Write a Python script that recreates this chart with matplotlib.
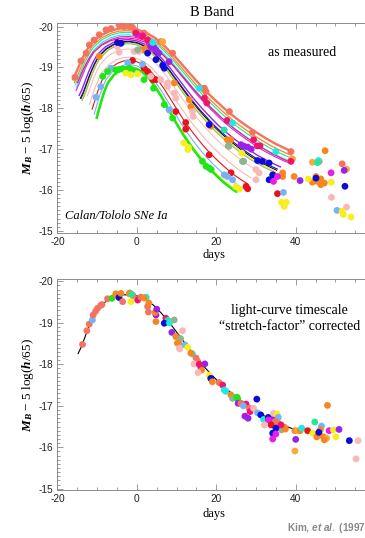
import numpy as np
import matplotlib
matplotlib.use("Agg")
import matplotlib.pyplot as plt
from matplotlib.ticker import MultipleLocator, FixedLocator

plt.rcParams['mathtext.fontset'] = 'custom'
plt.rcParams['mathtext.rm'] = 'Liberation Serif'
plt.rcParams['mathtext.bf'] = 'Liberation Serif:bold:italic'
plt.rcParams['mathtext.it'] = 'Liberation Sans:bold:italic'

# ---------------- colours ----------------
colors = {
    'S': '#f4735e', 'O': '#f7861e', 'LO': '#fba83a', 'R': '#e8121a',
    'LP': '#f9b8b8', 'M': '#e61ee6', 'HP': '#f0146e', 'P': '#9b22e8',
    'B': '#0c0cd6', 'LB': '#74b4f2', 'C': '#1ee8e0', 'MG': '#22e6a0',
    'G': '#1ee61a', 'Y': '#f6ee1e', 'GG': '#8fb48f', 'K': '#000000',
}

# ---------------- template light curve (stretch-corrected) ----------------
tmpl_day = [-15, -14, -13, -12, -11, -10, -8, -6, -4, -2, 0, 2, 4, 6, 8, 10, 12,
            14, 16, 18, 20, 22, 24, 26, 28, 30, 32, 34, 36, 38, 40]
tmpl_mag = [-18.22, -18.42, -18.68, -18.93, -19.14, -19.31, -19.50, -19.61,
            -19.67, -19.68, -19.65, -19.57, -19.44, -19.25, -19.03, -18.78,
            -18.52, -18.27, -18.04, -17.83, -17.63, -17.45, -17.29, -17.14,
            -17.00, -16.87, -16.76, -16.66, -16.57, -16.49, -16.42]
tmpl_peak = -19.68

# ---------------- fitted curves, top panel ----------------
curve_col = ['LP', 'S', 'O', 'MG', 'C', 'M', 'HP', 'P', 'B', 'K', 'Y', 'GG', 'LP', 'R', 'LB', 'Y', 'G']
curve_peak = [-19.45, -19.96, -19.90, -19.86, -19.80, -19.76, -19.72, -19.68, -19.64, -19.62, -19.60, -19.58, -19.25, -19.17, -19.07, -19.01, -18.99]
curve_stretch = [0.92, 1.15, 1.12, 1.10, 1.08, 1.07, 1.12, 1.00, 0.97, 0.96, 0.95, 0.94, 0.88, 0.82, 0.78, 0.74, 0.73]
curve_start = [-12.5, -16.2, -15.8, -15.6, -15.3, -15.4, -15.0, -14.6, -14.3, -14.1, -14.0, -13.8, -12.0, -11.3, -10.8, -10.1, -10.2]
curve_end = [30.5, 38.9, 39.0, 39.0, 38.5, 38.0, 39.0, 36.3, 35.5, 35.3, 35.0, 35.0, 28.8, 27.9, 27.4, 25.5, 25.3]
curve_lw = [0.7, 1.7, 0.9, 0.8, 0.8, 0.8, 0.8, 1.0, 0.8, 0.7, 0.8, 0.8, 0.8, 0.8, 0.8, 1.0, 1.8]

# ---------------- measured points, top panel ----------------
top_day = [
    # salmon
    -15.6, -14.1, -12.8, -12.0, -10.8, -9.5, -7.8, -6.5, -4.5, -3.2, -1.9, -1.1, -0.3, 1.8, 6.0, 9.0, 17.0, 17.4, 23.3, 29.1, 38.8, 45.9, 51.7,
    # orange
    -9.5, 1.4, 2.6, 9.4, 13.2, 13.6, 18.6, 22.8, 23.7, 36.7, 36.7, 39.6, 47.4, 45.1, 46.3, 44.2, 45.5, 47.2, 46.3,
    # light orange
    6.5, 38.8, 39.2, 44.2, 52.8,
    # red
    -1.1, 1.8, 2.7, 4.0, 4.8, 9.8, 12.3, 12.3, 18.2, 23.7, 27.5, 27.9, 35.4,
    # light pink
    -4.9, -4.5, -0.7, 0.5, 3.5, 6.0, 7.7, 7.7, 9.4, 9.8, 14.0, 14.2, 30.0, 30.8, 30.0, 49.0, 52.8,
    # blue
    -4.9, -4.0, 2.7, 4.8, 6.9, 6.5, 18.2, 30.4, 31.6, 33.3, 34.2, 33.3, 45.1, 52.4,
    # magenta
    0.2, 1.4, 3.1, 4.0, 35.4, 34.4, 48.9,
    # hot pink
    -0.3, 1.4, 2.7, 17.0, 17.6, 22.7, 29.4, 30.3, 31.0, 38.8,
    # purple
    3.5, 4.3, 4.8, 5.5, 8.1, 26.2, 27.0, 27.9, 28.8, 41.1, 52.2,
    # light blue
    -10.3, -9.1, -6.5, -2.3, 1.4, 8.1, 22.0, 22.8, 24.1, 36.9, 50.4,
    # cyan
    4.0, 15.7, 24.1, 35.0, 45.7,
    # mint
    22.0, 45.5,
    # green
    -8.6, -7.4, -5.3, -4.5, -3.6, -2.8, -1.9, -1.1, 1.8, 4.2, 6.9, 9.0, 16.5, 17.4, 18.2, 18.7,
    # yellow
    -2.8, -1.5, 0.2, 11.8, 12.8, 13.0, 24.9, 25.8, 26.4, 36.4, 37.1, 37.6, 43.2, 49.0, 51.7, 52.0, 53.9,
    # gray green
    0.2, 23.0, 26.6, 26.9, 23.2,
]
top_mag = [
    -18.76, -19.16, -19.35, -19.55, -19.67, -19.80, -19.92, -19.95, -20.04, -20.00, -20.00, -19.98, -19.90, -19.84, -19.63, -19.35, -18.49, -18.41, -17.92, -17.41, -16.94, -16.70, -16.64,
    -19.27, -19.43, -19.50, -18.62, -18.21, -18.04, -17.56, -17.23, -17.23, -16.42, -16.33, -16.33, -16.96, -16.33, -16.27, -16.19, -16.21, -16.17, -16.13,
    -19.63, -16.74, -16.76, -16.68, -16.51,
    -19.17, -18.98, -18.90, -18.70, -18.70, -17.92, -17.65, -17.49, -16.86, -16.42, -16.09, -16.03, -15.91,
    -19.51, -19.37, -19.39, -19.39, -18.78, -18.70, -18.53, -18.62, -18.37, -18.25, -17.92, -17.80, -16.50, -16.42, -16.25, -15.82, -15.58,
    -19.61, -19.59, -19.35, -19.19, -18.98, -19.05, -17.60, -16.72, -16.70, -16.66, -16.37, -16.25, -16.29, -16.09,
    -19.80, -19.78, -19.59, -19.45, -16.33, -16.21, -16.42,
    -19.84, -19.76, -19.67, -18.25, -18.13, -17.70, -17.23, -17.08, -17.08, -16.70,
    -19.51, -19.49, -19.43, -19.35, -19.14, -17.11, -17.07, -17.05, -17.00, -16.23, -16.48,
    -18.27, -18.53, -18.98, -19.12, -19.08, -17.96, -16.37, -16.33, -16.25, -15.94, -15.50,
    -19.61, -18.49, -17.64, -16.94, -16.72,
    -17.47, -16.67,
    -18.78, -18.90, -18.94, -18.95, -18.96, -18.95, -18.98, -18.94, -18.70, -18.49, -18.09, -17.76, -16.70, -16.58, -16.54, -16.50,
    -18.86, -18.82, -18.84, -17.15, -16.99, -17.04, -16.08, -16.02, -16.90, -15.70, -15.60, -15.70, -16.27, -16.19, -15.48, -15.40, -15.34,
    -19.43, -17.08, -16.70, -16.70, -17.07,
]
top_col = (['S'] * 23 + ['O'] * 19 + ['LO'] * 5 + ['R'] * 13 + ['LP'] * 17 + ['B'] * 14 +
           ['M'] * 7 + ['HP'] * 10 + ['P'] * 11 + ['LB'] * 11 + ['C'] * 5 + ['MG'] * 2 +
           ['G'] * 16 + ['Y'] * 17 + ['GG'] * 5)

# ---------------- stretch-corrected points, bottom panel ----------------
bot_day = [
    -13.7, -12.6, -12.0, -11.2, -11.0, -9.9, -10.4, -9.1, -8.8, -7.4, -6.3, -5.3, -5.3, -4.5, -4.0, -3.6, -1.9, -1.8, -1.5, -1.0, -1.3,
    0.2, 1.0, 2.3, 2.3, 1.8, 2.7, 3.0, 2.9, 4.8, 4.6, 5.0, 4.8, 7.3, 7.8, 6.9, 8.2, 8.8, 9.8, 9.4, 10.5, 10.8, 11.5, 11.0,
    10.2, 10.7, 12.1, 12.8, 14.0, 13.6, 14.9, 15.3, 14.4, 16.1, 17.1, 16.3, 15.4, 15.7, 18.2, 18.6, 19.0,
    20.7, 21.6, 22.0, 22.4, 23.7, 24.1, 25.2, 25.4, 30.2, 25.5, 26.2, 27.5, 26.8, 28.3, 28.5, 29.4, 27.2, 28.0,
    30.4, 31.2, 31.9, 33.1, 34.2, 33.1, 34.4, 35.3, 35.6, 34.8, 33.8, 36.4, 37.2, 37.4, 35.6, 36.3, 32.1, 35.0, 34.2, 35.0, 34.2,
    40.0, 39.8, 40.4, 41.1, 41.5, 39.8, 43.0, 44.3, 44.8, 46.5, 45.3, 46.0, 47.0, 46.2, 47.8, 47.2, 45.8,
    48.4, 49.5, 50.9, 50.1, 48.0, 53.5, 55.7, 55.2,
]
bot_mag = [
    -18.48, -18.81, -18.97, -19.07, -19.19, -19.35, -19.28, -19.42, -19.44, -19.58, -19.59, -19.67, -19.70, -19.61, -19.71, -19.51, -19.70, -19.72, -19.51, -19.66, -19.69,
    -19.55, -19.62, -19.61, -19.62, -19.60, -19.39, -19.48, -19.26, -19.19, -19.25, -19.33, -19.03, -19.11, -19.06, -18.99, -19.00, -18.77, -18.67, -19.07, -18.51, -18.37, -18.81, -18.62,
    -18.51, -18.39, -18.47, -18.41, -18.25, -18.27, -18.15, -18.07, -18.01, -17.93, -18.01, -17.86, -17.80, -18.00, -17.74, -17.66, -17.58,
    -17.56, -17.50, -17.38, -17.35, -17.26, -17.18, -17.21, -17.16, -17.16, -17.06, -17.06, -17.04, -17.00, -16.94, -16.86, -16.94, -16.75, -16.70,
    -16.83, -16.78, -16.67, -16.72, -16.67, -16.66, -16.82, -16.80, -16.72, -16.62, -16.54, -16.42, -16.48, -16.44, -16.58, -16.54, -16.54, -16.46, -16.34, -16.32, -16.20,
    -16.19, -16.40, -16.40, -16.40, -16.46, -15.91, -16.40, -16.34, -16.61, -16.51, -16.25, -16.30, -16.25, -16.42, -16.22, -16.18, -16.36,
    -16.40, -16.42, -16.43, -16.25, -17.01, -16.16, -16.16, -15.72,
]
bot_col = (['S', 'S', 'S', 'LB', 'S', 'S', 'S', 'S', 'S', 'S', 'G', 'O', 'O', 'B', 'O', 'S', 'O', 'O', 'Y', 'S', 'MG'] +
           ['HP', 'S', 'LB', 'C', 'O', 'S', 'O', 'S', 'P', 'O', 'P', 'O', 'HP', 'MG', 'B', 'C', 'P', 'O', 'GG', 'O', 'LP', 'LP', 'GG'] +
           ['O', 'LP', 'LB', 'Y', 'C', 'O', 'S', 'S', 'LP', 'HP', 'P', 'O', 'LP', 'HP', 'Y', 'B', 'O'] +
           ['S', 'HP', 'C', 'C', 'O', 'GG', 'G', 'G', 'B', 'P', 'S', 'HP', 'LB', 'S', 'HP', 'LP', 'P', 'P'] +
           ['LB', 'B', 'C', 'B', 'P', 'M', 'LP', 'Y', 'LB', 'S', 'R', 'GG', 'O', 'O', 'S', 'HP', 'LP', 'B', 'B', 'M', 'M'] +
           ['P', 'O', 'LO', 'O', 'C', 'LO', 'R', 'Y', 'MG', 'LB', 'O', 'O', 'O', 'O', 'LO', 'O', 'B'] +
           ['M', 'Y', 'P', 'Y', 'O', 'B', 'LP', 'LP'])

# ---------------- text ----------------
y_ticks = [-20, -19, -18, -17, -16, -15]
y_ticklabels = ['-20', '-19', '-18', '-17', '-16', '-15']
x_ticks = [-20, 0, 20, 40]
x_ticklabels = ['-20', '0', '20', '40']

fig = plt.figure(figsize=(3.65, 5.38), dpi=100)
ax1 = fig.add_axes([0.1575, 0.5664, 0.8485, 0.3903])
ax2 = fig.add_axes([0.1575, 0.0892, 0.8485, 0.3917])

spine_col = '#8c8c8c'
ylab = "$\\mathbf{M_B}$ \u2212 5 log($\\mathbf{h}$/65)"

for ax, ylim in ((ax1, (-14.94, -20.08)), (ax2, (-14.97, -20.05))):
    ax.set_xlim(-20, 58)
    ax.set_ylim(*ylim)
    ax.xaxis.set_major_locator(FixedLocator(x_ticks))
    ax.set_xticklabels(x_ticklabels)
    ax.xaxis.set_minor_locator(MultipleLocator(5))
    ax.yaxis.set_major_locator(FixedLocator(y_ticks))
    ax.set_yticklabels(y_ticklabels)
    ax.yaxis.set_minor_locator(MultipleLocator(0.1))
    ax.tick_params(which='both', direction='in', top=True, right=False, color=spine_col, width=0.6)
    ax.tick_params(which='major', length=4, labelsize=7.3, pad=3, labelcolor='#222222')
    ax.tick_params(which='minor', length=2)
    for lab in ax.get_xticklabels() + ax.get_yticklabels():
        lab.set_fontfamily('Liberation Sans')
    for sp in ax.spines.values():
        sp.set_color(spine_col)
        sp.set_linewidth(0.7)
    ax.set_ylabel(ylab, fontsize=9.5, family='Liberation Serif')
    ax.yaxis.set_label_coords(-0.07, 0.5)

# top panel curves
td = np.array(tmpl_day, dtype=float)
tm = np.array(tmpl_mag, dtype=float)
for c, pk, s, t0, t1, lw in zip(curve_col, curve_peak, curve_stretch, curve_start, curve_end, curve_lw):
    t = np.linspace(t0, t1, 300)
    m = np.interp(t / s, td, tm) + (pk - tmpl_peak)
    ax1.plot(t, m, color=colors[c], lw=lw, solid_capstyle='butt', zorder=2)

ax1.scatter(top_day, top_mag, c=[colors[k] for k in top_col], s=24, linewidths=0, zorder=3)

# bottom panel
tb = np.linspace(-14.8, 40, 300)
ax2.plot(tb, np.interp(tb, td, tm), color='k', lw=0.8, zorder=2)
ax2.scatter(bot_day, bot_mag, c=[colors[k] for k in bot_col], s=24, linewidths=0, zorder=3)

serif = 'Liberation Serif'
fig.text(0.580, 0.976, 'B Band', ha='center', va='center', fontsize=10.5, family=serif)
fig.text(0.8266, 0.9028, 'as measured', ha='center', va='center', fontsize=10, family=serif)
fig.text(0.3197, 0.5985, 'Calan/Tololo SNe Ia', ha='center', va='center', fontsize=9, family=serif, style='italic')
fig.text(0.586, 0.526, 'days', ha='center', va='center', fontsize=9, family=serif)
fig.text(0.7926, 0.4225, 'light-curve timescale', ha='center', va='center', fontsize=10, family=serif)
fig.text(0.7926, 0.394, '\u201cstretch-factor\u201d corrected', ha='center', va='center', fontsize=10, family=serif)
fig.text(0.587, 0.044, 'days', ha='center', va='center', fontsize=9, family=serif)
fig.text(0.787, 0.019, r'Kim, $\mathit{et\ al.}$ (1997', ha='left', va='center', fontsize=7.2,
         family='Liberation Sans', weight='bold', color='#8a8a8a')

fig.savefig('out.png', dpi=100)
